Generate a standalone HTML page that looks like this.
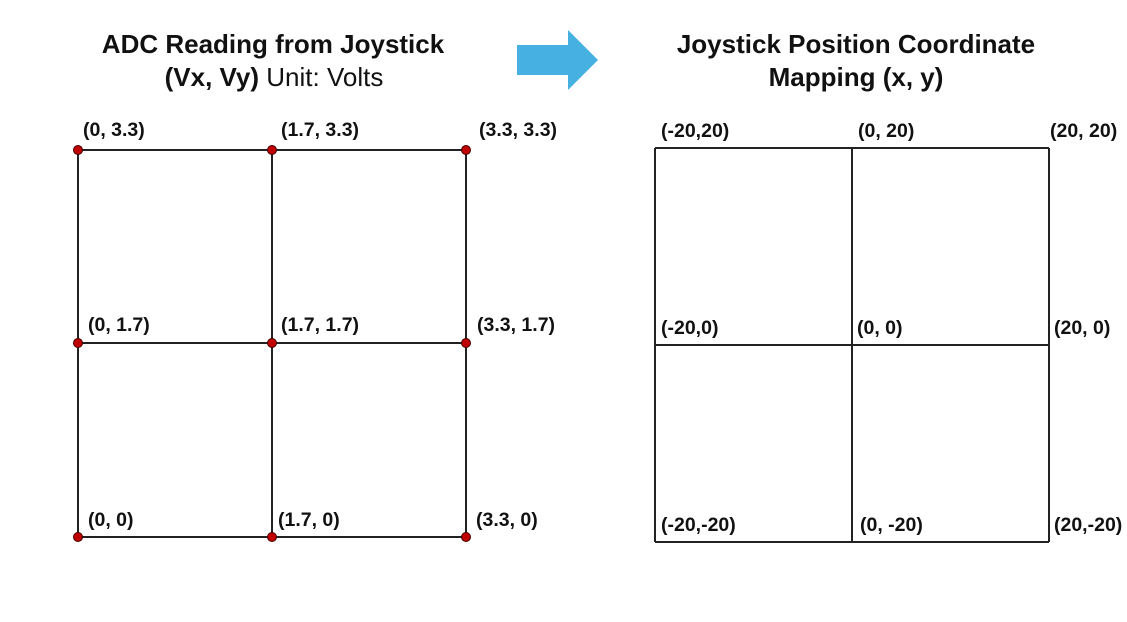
<!DOCTYPE html>
<html><head><meta charset="utf-8"><style>
html,body{margin:0;padding:0;background:#fff;}
svg{display:block;font-family:"Liberation Sans",sans-serif;}
.lbl{font-size:19.5px;font-weight:bold;fill:#111;}
.ttl{font-size:26px;font-weight:bold;fill:#111;}
</style></head><body>
<svg id="c" width="1127" height="622" viewBox="0 0 1127 622">
<text class="ttl" x="273" y="53" text-anchor="middle">ADC Reading from Joystick</text>
<text class="ttl" x="274" y="86" text-anchor="middle">(Vx, Vy)  <tspan font-weight="normal">Unit: Volts</tspan></text>
<text class="ttl" x="856" y="53" text-anchor="middle">Joystick Position Coordinate</text>
<text class="ttl" x="856" y="86" text-anchor="middle">Mapping (x, y)</text>
<polygon points="517,45 568,45 568,30 598,60 568,90 568,75 517,75" fill="#45b0e1"/>
<g id="g"></g>
</svg>
<script>
const leftX=[0,1.7,3.3];
const leftY=[0,1.7,3.3];
const rightX=[-20,0,20];
const rightY=[-20,0,20];
const leftLabels=[["(0, 3.3)","(1.7, 3.3)","(3.3, 3.3)"],["(0, 1.7)","(1.7, 1.7)","(3.3, 1.7)"],["(0, 0)","(1.7, 0)","(3.3, 0)"]];
const rightLabels=[["(-20,20)","(0, 20)","(20, 20)"],["(-20,0)","(0, 0)","(20, 0)"],["(-20,-20)","(0, -20)","(20,-20)"]];
const NS="http://www.w3.org/2000/svg";
const g=document.getElementById('g');
function poly(dom,rng){return v=>{let i=0;while(i<dom.length-2&&v>dom[i+1])i++;return rng[i]+(v-dom[i])/(dom[i+1]-dom[i])*(rng[i+1]-rng[i]);};}
const lx=poly([0,1.7,3.3],[78,272,466]);
const ly=poly([0,1.7,3.3],[537,343,150]);
function rx(v){return 655+((v+20)/40)*394;}
function ry(v){return 542-((v+20)/40)*394;}
function el(t,a){const e=document.createElementNS(NS,t);for(const k in a)e.setAttribute(k,a[k]);g.appendChild(e);return e;}
const lOffX=[[5,9,13],[10,9,11],[10,6,10]];
const lOffY=[-14,-12,-11];
const rOffX=[[6,6,1],[6,5,5],[6,8,5]];
const rOffY=[-11,-11,-11];
function grid(xs,ys,fx,fy,labels,side){
  xs.forEach(v=>{const l=el('line',{x1:fx(v),x2:fx(v),y1:fy(ys[0]),y2:fy(ys[ys.length-1]),stroke:'#222','stroke-width':2});
    
    });
  ys.forEach(v=>{const l=el('line',{x1:fx(xs[0]),x2:fx(xs[xs.length-1]),y1:fy(v),y2:fy(v),stroke:'#222','stroke-width':2});
    
    });
  for(let r=0;r<3;r++){for(let c=0;c<3;c++){
    const yv=ys[2-r],xv=xs[c];
    if(side==='left'){
      const d=el('circle',{cx:fx(xv),cy:fy(yv),r:4.5,fill:'#c00000',stroke:'#400','stroke-width':1});
      
      
    }
    const ox=side==='left'?lOffX[r][c]:rOffX[r][c];
    const oy=side==='left'?lOffY[r]:rOffY[r];
    const t=el('text',{x:fx(xv)+ox,y:fy(yv)+oy,class:'lbl'});
    t.textContent=labels[r][c];
    
    
  }}
}
grid(leftX,leftY,lx,ly,leftLabels,'left');
grid(rightX,rightY,rx,ry,rightLabels,'right');
</script>
</body></html>
